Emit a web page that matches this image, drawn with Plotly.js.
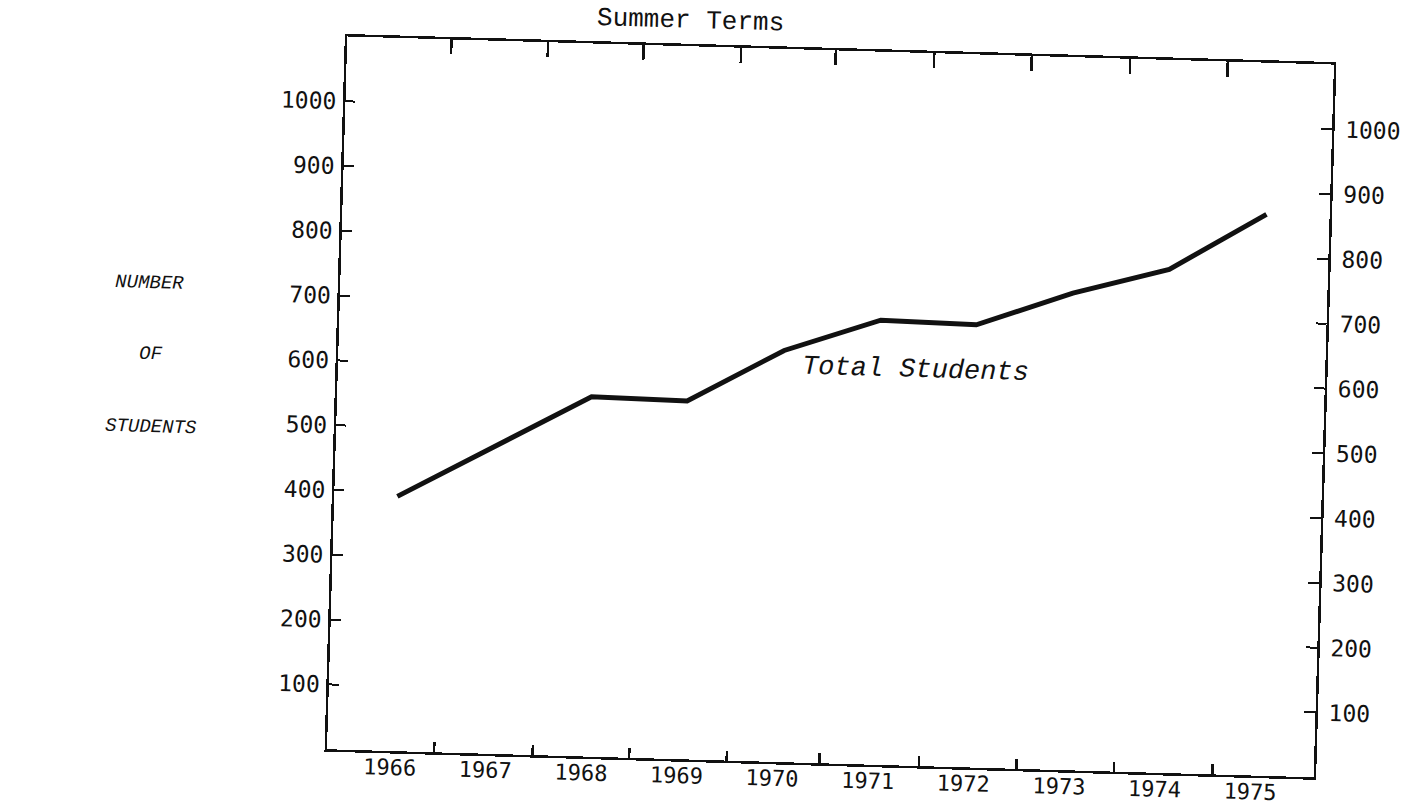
<!DOCTYPE html>
<html>
<head>
<meta charset="utf-8">
<script src="https://cdn.plot.ly/plotly-3.0.1.min.js"></script>
<style>
  html, body { margin: 0; padding: 0; background: #fff; overflow: hidden; }
  #chart { width: 1422px; height: 808px; transform: rotate(1.63deg); transform-origin: 50% 50%; }
</style>
</head>
<body>
<div id="chart"></div>
<script>
// ---- data ----
const yearTicks = [1966, 1967, 1968, 1969, 1970, 1971, 1972, 1973, 1974, 1975];
const yearLabels = ['1966', '1967', '1968', '1969', '1970', '1971', '1972', '1973', '1974', '1975'];
const bottomDividers = [1966.46, 1967.49, 1968.50, 1969.52, 1970.49, 1971.53, 1972.55, 1973.57, 1974.60];
const topDividers = [1966.43, 1967.44, 1968.44, 1969.46, 1970.45, 1971.48, 1972.50, 1973.53, 1974.55];
const studentYears = [1966, 1968, 1969, 1970, 1971, 1972, 1973, 1974, 1975];
const totalStudents = [393, 555, 553, 635, 686, 683, 736, 777, 866];
const valueTicks = [100, 200, 300, 400, 500, 600, 700, 800, 900, 1000];
const valueLabels = ['100', '200', '300', '400', '500', '600', '700', '800', '900', '1000'];
const chartTitle = 'Summer Terms';
const seriesLabel = 'Total Students';
const axisTitleLines = ['NUMBER', 'OF', 'STUDENTS'];

// ---- styling ----
const X_RANGE = [1965.34, 1975.66];
const Y_RANGE = [0, 1100];
const INK = '#111';
const MONO = 'Liberation Mono, Courier New, monospace';
const tickFont = { family: 'DejaVu Sans Mono, monospace', size: 23, color: INK };
const yearFont = { family: 'DejaVu Sans Mono, monospace', size: 22, color: INK };
const typeFont = { family: MONO, size: 26, color: INK };
const italicFont = { family: MONO, size: 19, color: INK, style: 'italic' };

const traces = [
  {
    x: studentYears, y: totalStudents, xaxis: 'x', yaxis: 'y',
    type: 'scatter', mode: 'lines', name: seriesLabel,
    line: { color: INK, width: 5 }, hoverinfo: 'x+y'
  },
  {
    x: studentYears, y: totalStudents, xaxis: 'x2', yaxis: 'y',
    type: 'scatter', mode: 'lines', opacity: 0, hoverinfo: 'skip', showlegend: false,
    line: { width: 0 }
  },
  {
    x: studentYears, y: totalStudents, xaxis: 'x3', yaxis: 'y2',
    type: 'scatter', mode: 'lines', opacity: 0, hoverinfo: 'skip', showlegend: false,
    line: { width: 0 }
  }
];

const baseAxis = { showgrid: false, zeroline: false, fixedrange: true, linecolor: INK, tickcolor: INK };

const layout = {
  width: 1422, height: 808,
  margin: { l: 337, r: 98, t: 47, b: 48 },
  paper_bgcolor: '#fff', plot_bgcolor: '#fff',
  showlegend: false,
  title: {
    text: chartTitle, x: 0.478, xanchor: 'center', xref: 'container',
    y: 0.976, yanchor: 'middle', yref: 'container', font: typeFont
  },
  xaxis: Object.assign({}, baseAxis, {
    range: X_RANGE, tickmode: 'array', tickvals: yearTicks, ticktext: yearLabels,
    ticks: '', showline: true, linewidth: 2.5, tickfont: yearFont, ticklabelstandoff: -5
  }),
  xaxis2: Object.assign({}, baseAxis, {
    overlaying: 'x', side: 'bottom', anchor: 'y', range: X_RANGE,
    tickmode: 'array', tickvals: bottomDividers, ticks: 'inside', ticklen: 10, tickwidth: 2.5,
    showticklabels: false, showline: false
  }),
  xaxis3: Object.assign({}, baseAxis, {
    overlaying: 'x', side: 'top', anchor: 'y', range: X_RANGE,
    tickmode: 'array', tickvals: topDividers, ticks: 'inside', ticklen: 15, tickwidth: 2.5,
    showticklabels: false, showline: true, linewidth: 2.5
  }),
  yaxis: Object.assign({}, baseAxis, {
    range: Y_RANGE, tickmode: 'array', tickvals: valueTicks, ticktext: valueLabels,
    ticks: 'inside', ticklen: 10, tickwidth: 2, showline: true, linewidth: 2.5,
    tickfont: tickFont, ticklabelstandoff: 2
  }),
  yaxis2: Object.assign({}, baseAxis, {
    overlaying: 'y', side: 'right', anchor: 'x', range: Y_RANGE,
    tickmode: 'array', tickvals: valueTicks, ticktext: valueLabels,
    ticks: 'inside', ticklen: 11, tickwidth: 2, showline: true, linewidth: 2.5,
    tickfont: tickFont, ticklabelstandoff: 6
  }),
  annotations: [
    {
      text: seriesLabel, xref: 'x', yref: 'y', x: 1971.38, y: 611,
      showarrow: false, xanchor: 'center', yanchor: 'middle',
      font: { family: MONO, size: 27, color: INK, style: 'italic' }
    },
    { text: axisTitleLines[0], xref: 'paper', yref: 'paper', x: -0.193, y: 0.646, showarrow: false, xanchor: 'center', yanchor: 'middle', font: italicFont },
    { text: axisTitleLines[1], xref: 'paper', yref: 'paper', x: -0.190, y: 0.547, showarrow: false, xanchor: 'center', yanchor: 'middle', font: italicFont },
    { text: axisTitleLines[2], xref: 'paper', yref: 'paper', x: -0.187, y: 0.445, showarrow: false, xanchor: 'center', yanchor: 'middle', font: italicFont }
  ]
};

Plotly.newPlot('chart', traces, layout, { displayModeBar: false, staticPlot: true });
</script>
</body>
</html>
